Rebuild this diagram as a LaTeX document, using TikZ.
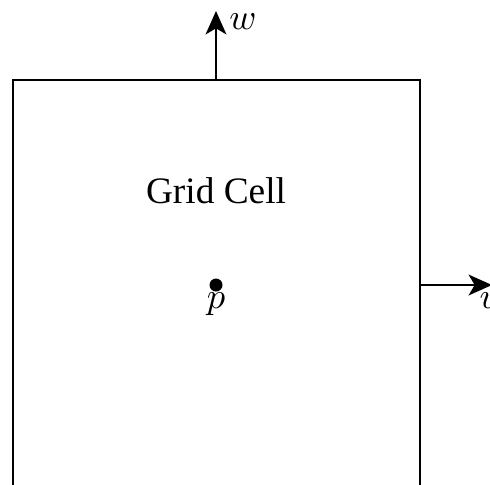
\documentclass[tikz,border=0pt]{standalone}
\usepackage{fontspec}
\setmainfont{Liberation Serif}
\usetikzlibrary{arrows.meta}
\begin{document}
\begin{tikzpicture}[x=0.3pt,y=-0.3pt,
  wall/.style={line width=0.8pt},
  vec/.style={line width=0.8pt,-{Stealth[length=7pt,width=6.2pt,inset=1.8pt]}},
  lab/.style={inner sep=0pt,font=\fontsize{11.2}{13}\selectfont}]
\clip (0,0) rectangle (490,484);
\coordinate (bl) at (13,500);
\coordinate (tl) at (13,80);
\coordinate (tr) at (420,80);
\coordinate (br) at (420,500);
\coordinate (wbase) at (216,80);
\coordinate (wtip) at (216,11);
\coordinate (ubase) at (420,285);
\coordinate (utip) at (492,285);
\draw[wall] (bl) -- (tl) -- (tr) -- (br);
\draw[vec] (wbase) -- (wtip);
\draw[vec] (ubase) -- (utip);
\node[lab] (wl) at (243,22) {$w$};
\node[lab] (ul) at (490,301) {$u$};
\fill (216,285) circle (6.5) node (p) {};
\node[lab] (pl) at (216,304) {$p$};
\node[lab] (title) at (216,191) {Grid Cell};
\end{tikzpicture}
\end{document}
